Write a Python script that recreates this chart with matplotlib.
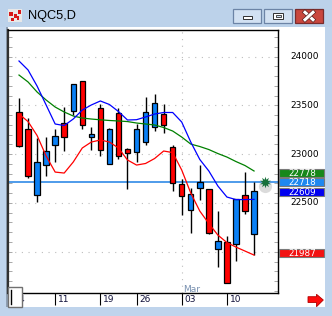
import matplotlib
matplotlib.use('Agg')
import matplotlib.pyplot as plt
from matplotlib.patches import Rectangle, Polygon
from matplotlib.lines import Line2D
import matplotlib.transforms as mtransforms
from matplotlib.ticker import MultipleLocator
import matplotlib.patheffects as pe

# ---------------- data ----------------
title = "NQC5,D"
opens  = [23430, 23262, 22582, 22886, 23091, 23317, 23446, 23751, 23176, 23471, 22903, 23420, 23050, 23023,
          23122, 23276, 23412, 23071, 22694, 22428, 22650, 22640, 22025, 22096, 22076, 22582, 22178]
highs  = [23579, 23374, 23163, 23173, 23255, 23484, 23725, 23755, 23279, 23512, 23272, 23471, 23067, 23305,
          23590, 23617, 23515, 23094, 22743, 22650, 22889, 22643, 22417, 22161, 22541, 22821, 22718]
lows   = [23075, 22753, 22507, 22780, 22923, 23036, 23402, 23258, 23043, 22985, 22896, 22951, 22640, 22925,
          23094, 23238, 23221, 22623, 22376, 22195, 22527, 22178, 21846, 21676, 21908, 22384, 21966]
closes = [23081, 22773, 22917, 23033, 23187, 23180, 23720, 23303, 23207, 23040, 23255, 22978, 23015, 23255,
          23430, 23522, 23300, 22708, 22571, 22589, 22712, 22192, 22110, 21676, 22537, 22421, 22623]
ma_blue  = [23956, 23864, 23699, 23505, 23310, 23294, 23361, 23453, 23505, 23546, 23510, 23438, 23351, 23354,
            23382, 23412, 23428, 23428, 23330, 23125, 22946, 22828, 22674, 22561, 22535, 22535, 22537]
ma_green = [23812, 23741, 23638, 23556, 23484, 23433, 23392, 23371, 23361, 23353, 23346, 23341, 23335, 23320,
            23310, 23300, 23274, 23238, 23176, 23104, 23079, 23048, 23007, 22971, 22925, 22884, 22828]
ma_red   = [23412, 23335, 23192, 22982, 22817, 22807, 22920, 23064, 23125, 23146, 23125, 23064, 22941, 22889,
            22905, 22956, 23033, 23017, 22838, 22602, 22417, 22289, 22171, 22094, 22048, 22007, 21966]
last_price = 22718
date_labels = ['4', '11', '19', '26', '03', '10']
date_pos = [-0.35, 4, 9, 13, 18, 23]
month_label = 'Mar'
month_pos = 18
price_labels = [22500, 23000, 23500, 24000]
grid_levels = [22000, 22500, 23000, 23500, 24000]
value_labels = [22778, 22718, 22609, 21987]
value_colors = ['#17881a', '#1e88f0', '#0000f0', '#f21212']

# ---------------- figure ----------------
W, H = 332, 316
fig = plt.figure(figsize=(W / 100, H / 100), dpi=100)
fig.patch.set_facecolor('#bfd4ec')

def fx(px):
    return px / W

def fy(py):
    return 1 - py / H

def frect(x0, y0, x1, y1, **kw):
    r = Rectangle((fx(x0), fy(y1)), (x1 - x0) / W, (y1 - y0) / H, transform=fig.transFigure, **kw)
    fig.patches.append(r)
    return r

# title bar
frect(0, 0, 332, 27, fc='#bcd2ea', ec='none', zorder=-3)
# client area
frect(7, 27, 325, 307, fc='white', ec='none', zorder=-2)
frect(5.5, 27, 7.5, 307, fc='#8f9fb2', ec='none', zorder=-1)

# ---------------- axes ----------------
ax = fig.add_axes([fx(8), fy(293), (278 - 8) / W, (293 - 29.5) / H])
ax.set_facecolor('white')
ax.set_xlim(-1.217, 28.65)
ax.set_ylim(21577, 24279)
for s in ax.spines.values():
    s.set_color('black')
    s.set_linewidth(1.0)
ax.spines['left'].set_linewidth(1.6)
ax.spines['left'].set_color('#303030')

ax.set_yticks(grid_levels)
ax.yaxis.set_minor_locator(MultipleLocator(100))
ax.tick_params(axis='y', which='both', direction='in', left=True, right=True,
               labelleft=False, labelright=False, length=2.6, width=0.7, color='#a8a8a8')
ax.yaxis.grid(True, which='major', linestyle=(0, (1, 5)), color='#bdbdbd', linewidth=0.8)
ax.axvline(month_pos, linestyle=(0, (1, 5)), color='#bdbdbd', linewidth=0.8, zorder=0.5)

ax.set_xticks(date_pos)
ax.tick_params(axis='x', which='major', direction='out', length=8.6, width=0.8, color='black',
               labelbottom=False, bottom=True, top=False)
ax.set_axisbelow(True)

idx = list(range(len(opens)))
ax.axhline(last_price, color='#1e80e4', linewidth=1.1, zorder=1.8)
ax.vlines(idx, lows, highs, color='black', linewidth=1.0, zorder=2)
heights = [c - o for o, c in zip(opens, closes)]
cols = ['#0a80f5' if c >= o else '#ff0000' for o, c in zip(opens, closes)]
ax.bar(idx, heights, bottom=opens, width=0.6, color=cols, edgecolor='black', linewidth=0.9, zorder=3)

ax.plot(idx, ma_green, color='#008000', linewidth=0.9, zorder=4)
ax.plot(idx, ma_blue, color='#0000ff', linewidth=0.9, zorder=4)
ax.plot(idx, ma_red, color='#ff0000', linewidth=0.9, zorder=4)

# glowing star marker after last bar
ax.scatter([27.25], [last_price - 40], s=90, marker='o', color='#9a9a9a', alpha=0.35, zorder=5,
           clip_on=False, linewidths=0)
ax.scatter([27.2], [last_price], s=70, marker=(10, 1, 0), color='#17703a', zorder=6, clip_on=False,
           linewidths=0)

# x labels
trans_x = mtransforms.blended_transform_factory(ax.transData, fig.transFigure)
lab_tr = mtransforms.offset_copy(trans_x, fig=fig, x=3, y=0, units='dots')
for p, l in zip(date_pos, date_labels):
    ax.text(p, fy(300), l, transform=lab_tr, ha='left', va='center', fontsize=6.5,
            color='#10103a', clip_on=False)
mon_tr = mtransforms.offset_copy(trans_x, fig=fig, x=1.5, y=0, units='dots')
ax.text(month_pos, fy(289), month_label, transform=mon_tr, ha='left', va='center', fontsize=6.5,
        color='#7890b0', clip_on=False)

# y labels on right
trans_y = mtransforms.blended_transform_factory(fig.transFigure, ax.transData)
for v in price_labels:
    fig.text(fx(305), v, str(v), transform=trans_y, ha='center', va='center', fontsize=6.5,
             color='black')

# value boxes, stacked so they do not overlap (upper boxes pushed up)
fig.canvas.draw()
half = 4.1
centers = [H - ax.transData.transform((0, v))[1] for v in value_labels]
order = sorted(range(len(centers)), key=lambda k: centers[k], reverse=True)
placed = {}
prev_top = None
for k in order:
    c = centers[k]
    if prev_top is not None and c + half > prev_top - 0.3:
        c = prev_top - 0.3 - half
    placed[k] = c
    prev_top = c - half
for k, (v, col) in enumerate(zip(value_labels, value_colors)):
    py = placed[k]
    frect(279.3, py - half, 324, py + half, fc=col, ec='#7a7a7a', lw=0.8, zorder=5)
    fig.text(fx(302), fy(py + 0.3), str(v), ha='center', va='center', fontsize=6.3, color='white', zorder=6)

# bottom-left scroll box
frect(8.3, 287, 21.7, 307, fc='white', ec='#707070', lw=1.0, zorder=7)
fig.lines.append(Line2D([fx(11.2), fx(11.2)], [fy(289.5), fy(303.5)], transform=fig.transFigure,
                        color='black', lw=1.0, zorder=8))

# red arrow bottom right
arrow_px = [(308, 296.7), (316.5, 296.7), (316.5, 294.3), (323.3, 300), (316.5, 306.7), (316.5, 302.5), (308, 302.5)]
fig.patches.append(Polygon([(fx(a), fy(b)) for a, b in arrow_px], closed=True, transform=fig.transFigure,
                           fc='#ff0c0c', ec='#b00000', lw=0.6, zorder=7))

# ---------------- title bar ----------------
frect(8, 9, 22, 22, fc='#e8e8e8', ec='none', zorder=5)
for (a, b, c, d) in [(9, 12, 13, 16), (14, 14, 17, 18), (18, 10, 21, 14), (11, 18, 14, 21), (17, 16, 19, 20)]:
    frect(a, b, c, d, fc='#d81818', ec='none', zorder=6)
fig.text(fx(28), fy(16), title, ha='left', va='center', fontsize=9.2, family='Liberation Sans',
         color='black')

frect(233, 9, 261, 23, fc='#d2e1f2', ec='#6c84a6', lw=0.9, zorder=5)
frect(243, 16, 252, 19, fc='white', ec='#303030', lw=0.7, zorder=6)
frect(264, 9, 292, 23, fc='#d2e1f2', ec='#6c84a6', lw=0.9, zorder=5)
frect(273.3, 12.7, 283.3, 19.3, fc='white', ec='#303030', lw=0.7, zorder=6)
frect(275.5, 14.8, 281.2, 17.3, fc='#d2e1f2', ec='#303030', lw=0.6, zorder=7)
frect(295, 9, 323, 23, fc='#c9473e', ec='#7a2c2c', lw=0.9, zorder=5)
for (a, b, c, d) in [(305, 12.3, 313, 19.7), (305, 19.7, 313, 12.3)]:
    fig.lines.append(Line2D([fx(a), fx(c)], [fy(b), fy(d)], transform=fig.transFigure, color='white',
                            lw=2.2, zorder=7,
                            path_effects=[pe.Stroke(linewidth=3.2, foreground='#5a2020'), pe.Normal()]))

fig.savefig('out.png', dpi=100, facecolor=fig.get_facecolor())
